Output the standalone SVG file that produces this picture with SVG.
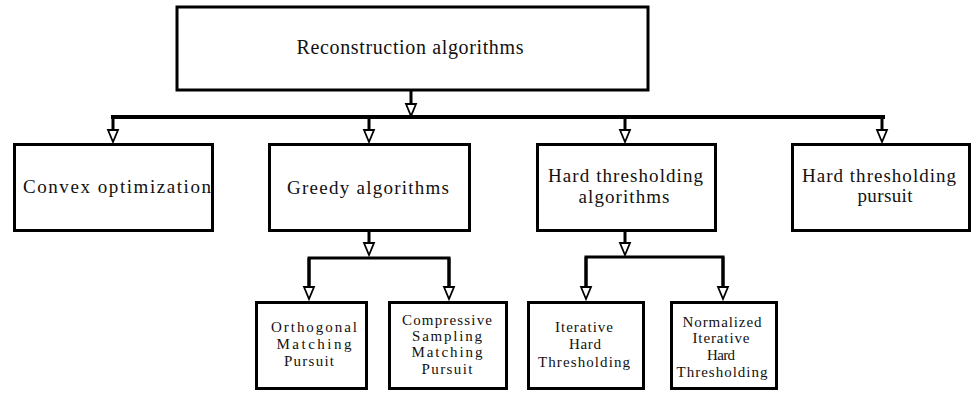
<svg xmlns="http://www.w3.org/2000/svg" width="973" height="394" viewBox="0 0 973 394">
<style>
.box{fill:#fff;stroke:#000;stroke-width:3}
.t{font-family:'Liberation Serif',Tinos,'Times New Roman',Times,'Noto Serif','DejaVu Serif','FreeSerif','Nimbus Roman',serif;fill:#111;text-anchor:middle}
.big{font-size:20px}
.mid{font-size:19px}
.sm{font-size:15px}
.c{fill:none;stroke:#000;stroke-width:3}
.bus{fill:none;stroke:#000;stroke-width:4}
</style>
<defs>
<marker id="ah" markerUnits="userSpaceOnUse" markerWidth="16" markerHeight="16" refX="0" refY="0" orient="auto" viewBox="-2 -8 16 16" overflow="visible">
<path d="M0,-5 L12,0 L0,5 Z" fill="#fff" stroke="#000" stroke-width="1.8" stroke-linejoin="miter"/>
</marker>
</defs>
<rect width="973" height="394" fill="#fff"/>
<g id="connectors">
<line class="c" x1="411" y1="91" x2="411" y2="104" marker-end="url(#ah)"/>
<line class="bus" x1="111" y1="117" x2="885" y2="117"/>
<line class="c" x1="113" y1="117" x2="113" y2="130" marker-end="url(#ah)"/>
<line class="c" x1="369" y1="117" x2="369" y2="130" marker-end="url(#ah)"/>
<line class="c" x1="625" y1="117" x2="625" y2="130" marker-end="url(#ah)"/>
<line class="c" x1="882" y1="117" x2="882" y2="130" marker-end="url(#ah)"/>
<line class="c" x1="369" y1="232" x2="369" y2="243" marker-end="url(#ah)"/>
<path class="c" d="M309,287 V258 H449 V287" stroke-linejoin="miter"/>
<line class="c" x1="309" y1="258" x2="309" y2="287" marker-end="url(#ah)"/>
<line class="c" x1="449" y1="258" x2="449" y2="287" marker-end="url(#ah)"/>
<line class="c" x1="625" y1="232" x2="625" y2="243" marker-end="url(#ah)"/>
<path class="c" d="M586,287 V257 H723 V287" stroke-linejoin="miter"/>
<line class="c" x1="586" y1="257" x2="586" y2="287" marker-end="url(#ah)"/>
<line class="c" x1="723" y1="257" x2="723" y2="287" marker-end="url(#ah)"/>
</g>
<g id="n-root">
<rect class="box" x="177" y="7" width="471" height="83"/>
<text class="t big" x="410" y="54" textLength="227" lengthAdjust="spacing">Reconstruction algorithms</text>
</g>
<g id="n-convex">
<rect class="box" x="14.5" y="144.5" width="198" height="86"/>
<text class="t mid" x="117" y="193" textLength="188" lengthAdjust="spacing">Convex optimization</text>
</g>
<g id="n-greedy">
<rect class="box" x="269.5" y="144.5" width="200" height="86"/>
<text class="t mid" x="368" y="194" textLength="162" lengthAdjust="spacing">Greedy algorithms</text>
</g>
<g id="n-hta">
<rect class="box" x="537.5" y="144.5" width="178" height="86"/>
<text class="t mid" x="625.5" y="182" textLength="155" lengthAdjust="spacing">Hard thresholding</text>
<text class="t mid" x="624" y="203" textLength="91" lengthAdjust="spacing">algorithms</text>
</g>
<g id="n-htp">
<rect class="box" x="792.5" y="144.5" width="177" height="86"/>
<text class="t mid" x="879" y="182" textLength="154" lengthAdjust="spacing">Hard thresholding</text>
<text class="t mid" x="885" y="202" textLength="55" lengthAdjust="spacing">pursuit</text>
</g>
<g id="n-omp">
<rect class="box" x="256.5" y="302.5" width="110" height="86"/>
<text class="t sm" x="314" y="332" textLength="86" lengthAdjust="spacing">Orthogonal</text>
<text class="t sm" x="314" y="349" textLength="75" lengthAdjust="spacing">Matching</text>
<text class="t sm" x="309" y="366" textLength="50" lengthAdjust="spacing">Pursuit</text>
</g>
<g id="n-csmp">
<rect class="box" x="389.5" y="302.5" width="117" height="86"/>
<text class="t sm" x="447" y="325" textLength="90" lengthAdjust="spacing">Compressive</text>
<text class="t sm" x="447" y="341" textLength="70" lengthAdjust="spacing">Sampling</text>
<text class="t sm" x="447" y="357" textLength="71" lengthAdjust="spacing">Matching</text>
<text class="t sm" x="447" y="374" textLength="51" lengthAdjust="spacing">Pursuit</text>
</g>
<g id="n-iht">
<rect class="box" x="528.5" y="302.5" width="115" height="86"/>
<text class="t sm" x="584" y="332" textLength="58" lengthAdjust="spacing">Iterative</text>
<text class="t sm" x="585" y="349" textLength="32" lengthAdjust="spacing">Hard</text>
<text class="t sm" x="584" y="367" textLength="92" lengthAdjust="spacing">Thresholding</text>
</g>
<g id="n-niht">
<rect class="box" x="671.5" y="302.5" width="105" height="86"/>
<text class="t sm" x="722" y="327" textLength="79" lengthAdjust="spacing">Normalized</text>
<text class="t sm" x="721" y="343" textLength="57" lengthAdjust="spacing">Iterative</text>
<text class="t sm" x="721" y="360" textLength="28" lengthAdjust="spacing">Hard</text>
<text class="t sm" x="722" y="377" textLength="91" lengthAdjust="spacing">Thresholding</text>
</g>
</svg>
